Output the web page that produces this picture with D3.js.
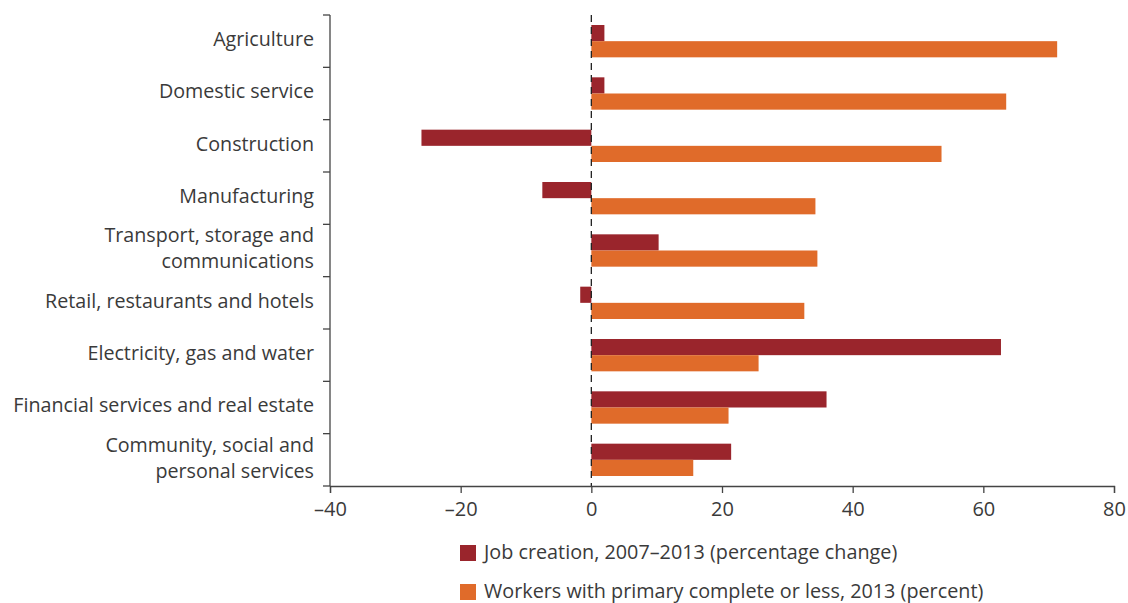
<!DOCTYPE html>
<html><head><meta charset="utf-8">
<script src="https://cdn.jsdelivr.net/npm/d3@7"></script>
<style>
body{margin:0;background:#fff;}
text{font-family:"Open Sans",Roboto,sans-serif;fill:#3a3a3a;}
</style></head>
<body><svg id="c" width="1128" height="603"></svg>
<script>
const categories = [
  ["Agriculture"],
  ["Domestic service"],
  ["Construction"],
  ["Manufacturing"],
  ["Transport, storage and","communications"],
  ["Retail, restaurants and hotels"],
  ["Electricity, gas and water"],
  ["Financial services and real estate"],
  ["Community, social and","personal services"]
];
const jobCreation = [2.0, 2.0, -26.0, -7.5, 10.3, -1.7, 62.7, 36.0, 21.4];
const workersPrimary = [71.3, 63.5, 53.6, 34.3, 34.6, 32.6, 25.6, 21.0, 15.6];
const xTicks = [-40, -20, 0, 20, 40, 60, 80];
const seriesNames = ["Job creation, 2007\u20132013 (percentage change)", "Workers with primary complete or less, 2013 (percent)"];
const colors = ["#9A252C", "#E06B2A"];

(function(){
const svg = d3.select("#c");
const mLeft = 330, mRight = 1114, mTop = 15, mBottom = 486;
const x = d3.scaleLinear().domain([-40, 80]).range([mLeft, mRight]);
const idx = categories.map((d,i)=>i);
const y = d3.scaleBand().domain(idx).range([mTop, mBottom]).paddingInner(0).paddingOuter(0);
const inner = 10;
const barH = (y.bandwidth() - 2*inner)/2;

const g = svg.append("g");
idx.forEach(i => {
  const y0 = y(i) + inner;
  g.append("rect").attr("x", x(Math.min(0, jobCreation[i]))).attr("y", y0)
    .attr("width", Math.abs(x(jobCreation[i]) - x(0))).attr("height", barH).attr("fill", colors[0]);
  g.append("rect").attr("x", x(Math.min(0, workersPrimary[i]))).attr("y", y0 + barH)
    .attr("width", Math.abs(x(workersPrimary[i]) - x(0))).attr("height", barH).attr("fill", colors[1]);
});

svg.append("line").attr("x1", x(0)).attr("x2", x(0)).attr("y1", mTop).attr("y2", mBottom)
  .attr("stroke", "#222").attr("stroke-width", 1.3).attr("stroke-dasharray", "7,5");

const ya = svg.append("g");
ya.append("line").attr("x1", mLeft).attr("x2", mLeft).attr("y1", mTop).attr("y2", mBottom).attr("stroke", "#444").attr("stroke-width", 1.3);
d3.range(categories.length + 1).forEach(k => {
  const yy = mTop + k * y.bandwidth();
  ya.append("line").attr("x1", mLeft - 7).attr("x2", mLeft).attr("y1", yy).attr("y2", yy).attr("stroke", "#444").attr("stroke-width", 1.3);
});
idx.forEach(i => {
  const lines = categories[i];
  const cy = y(i) + y.bandwidth()/2 - 2;
  const lh = 26;
  lines.forEach((t, j) => {
    ya.append("text").attr("x", 314).attr("y", cy + (j - (lines.length - 1)/2) * lh)
      .attr("dy", "0.35em").attr("text-anchor", "end").attr("font-size", 19.7).attr("font-weight", 400).text(t);
  });
});

const xa = svg.append("g").attr("transform", `translate(0,${mBottom})`)
  .call(d3.axisBottom(x).tickValues(xTicks).tickSize(7).tickPadding(9).tickFormat(d => d < 0 ? "\u2013" + Math.abs(d) : d));
xa.select(".domain").attr("stroke", "#444").attr("stroke-width", 1.3);
xa.selectAll(".tick line").attr("stroke", "#444").attr("stroke-width", 1.3);
xa.selectAll(".tick text").attr("font-size", 20).attr("font-weight", 400).attr("fill", "#3a3a3a")
  .style("font-family", "'Open Sans', sans-serif");

const lg = svg.append("g");
seriesNames.forEach((n, i) => {
  const ly = 553 + i * 39;
  lg.append("rect").attr("x", 460).attr("y", ly - 8).attr("width", 16).attr("height", 16).attr("fill", colors[i]);
  lg.append("text").attr("x", 484).attr("y", ly + 6).attr("font-size", 19.8)
    .attr("font-weight", 400).text(n);
});
})();
</script></body></html>
